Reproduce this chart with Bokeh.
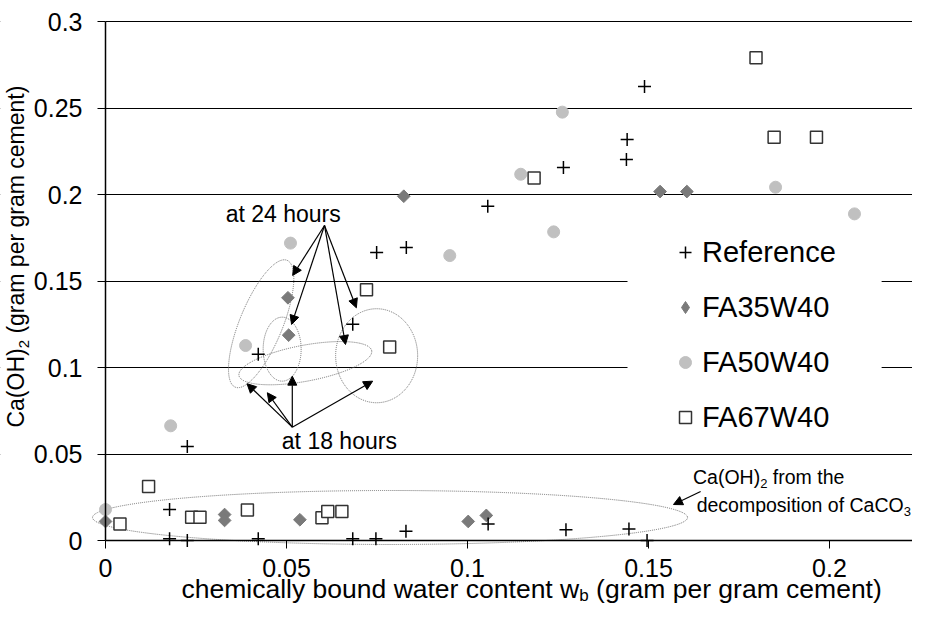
import math
from bokeh.plotting import figure
from bokeh.models import (Range1d, FixedTicker, Label, Arrow, NormalHead, Legend,
                          LegendItem, BoxAnnotation)
from bokeh.embed import file_html
from bokeh.resources import INLINE

# ---------------- data ----------------
series_names = ["Reference", "FA35W40", "FA50W40", "FA67W40"]

ref_x = [0.0177, 0.0177, 0.0226, 0.0422, 0.0683, 0.0747, 0.0830, 0.1057, 0.1272, 0.1446, 0.1496,
         0.0226, 0.0422, 0.0683, 0.0749, 0.0831, 0.1056, 0.1265, 0.1439, 0.1441, 0.1489]
ref_y = [0.0179, 0.0010, 0.0000, 0.0010, 0.0010, 0.0010, 0.0054, 0.0096, 0.0062, 0.0067, 0.0000,
         0.0543, 0.1077, 0.1250, 0.1665, 0.1694, 0.1932, 0.2156, 0.2202, 0.2318, 0.2624]

fa35_x = [0.0000, 0.0329, 0.0329, 0.0537, 0.1002, 0.1052, 0.0504, 0.0506, 0.0824, 0.1532, 0.1606]
fa35_y = [0.0110, 0.0150, 0.0116, 0.0120, 0.0110, 0.0145, 0.1403, 0.1187, 0.1990, 0.2017, 0.2017]

fa50_x = [0.0000, 0.0180, 0.0387, 0.0511, 0.0951, 0.1147, 0.1238, 0.1262, 0.1851, 0.2069, 0.2259]
fa50_y = [0.0179, 0.0663, 0.1127, 0.1719, 0.1647, 0.2117, 0.1784, 0.2476, 0.2042, 0.1888, 0.1917]

fa67_x = [0.0040, 0.0119, 0.0238, 0.0261, 0.0392, 0.0598, 0.0614, 0.0653, 0.0721, 0.0785,
          0.1184, 0.1797, 0.1847, 0.1964]
fa67_y = [0.0096, 0.0312, 0.0135, 0.0135, 0.0177, 0.0131, 0.0168, 0.0168, 0.1449, 0.1118,
          0.2096, 0.2790, 0.2331, 0.2331]

x_ticks = [0, 0.05, 0.1, 0.15, 0.2]
x_tick_labels = ["0", "0.05", "0.1", "0.15", "0.2"]
y_ticks = [0, 0.05, 0.1, 0.15, 0.2, 0.25, 0.3]
y_tick_labels = ["0", "0.05", "0.1", "0.15", "0.2", "0.25", "0.3"]

# annotation geometry (data-space anchors, screen-space sizes)
ell_x = [0.0430, 0.0488, 0.0552, 0.0749, 0.0786]
ell_y = [0.1253, 0.1106, 0.1025, 0.1068, 0.0133]
ell_w = [137, 38, 135, 82, 595]
ell_h = [43, 64, 36, 94, 54]
ell_a = [67.8, 0, 10.6, 0, 0]

arrows_24h_start = (0.0605, 0.1821)
arrows_24h_end = [(0.0517, 0.1532), (0.0514, 0.1249), (0.0663, 0.1133), (0.0693, 0.1345)]
arrows_18h_start = (0.0516, 0.0655)
arrows_18h_end = [(0.0391, 0.0906), (0.0447, 0.0854), (0.0516, 0.0950), (0.0738, 0.0921)]
arrow_caco3 = ((0.1644, 0.0283), (0.1569, 0.0208))

FONT = "Liberation Sans"
W, H = 912, 608
# layout: pixels per data unit and pixel position of the axes' origin
PX_X, PX_Y = 3620.0, 1730.0
ORIGIN_X, ORIGIN_Y = 105, 540
X0, X1 = -ORIGIN_X / PX_X, (W - ORIGIN_X) / PX_X
Y0, Y1 = -(H - ORIGIN_Y) / PX_Y, ORIGIN_Y / PX_Y
Y_TOP = 0.3

p = figure(width=W, height=H, output_backend="svg", toolbar_location=None,
           x_range=Range1d(X0, X1), y_range=Range1d(Y0, Y1),
           min_border_left=0, min_border_right=0, min_border_top=0, min_border_bottom=0)
p.outline_line_color = None
p.background_fill_color = "white"
p.border_fill_color = "white"

# grid
p.xgrid.visible = False
p.ygrid.ticker = FixedTicker(ticks=y_ticks[1:])
p.ygrid.grid_line_color = "black"
p.ygrid.grid_line_width = 1
# hide grid left of the value axis
p.add_layout(BoxAnnotation(right=0, fill_color="white", fill_alpha=1, line_color=None,
                           level="underlay"))

# axes crossing at the origin
for ax in (p.xaxis, p.yaxis):
    ax.fixed_location = 0
    ax.axis_line_color = "black"
    ax.axis_line_width = 1.5
    ax.major_tick_line_color = "black"
    ax.major_tick_line_width = 1
    ax.major_tick_in = 0
    ax.major_tick_out = 8
    ax.minor_tick_line_color = None
    ax.major_label_text_font = FONT
    ax.major_label_text_font_size = "25px"
    ax.major_label_text_color = "black"
p.xaxis.bounds = (0, X1)
p.yaxis.bounds = (0, Y_TOP)
p.xaxis.ticker = FixedTicker(ticks=x_ticks)
p.xaxis.major_label_overrides = dict(zip(x_ticks, x_tick_labels))
p.xaxis.major_label_standoff = 10
p.yaxis.ticker = FixedTicker(ticks=y_ticks)
p.yaxis.major_label_overrides = dict(zip(y_ticks, y_tick_labels))
p.yaxis.major_label_standoff = 15

# ellipses (annotation shapes)
p.ellipse(x=ell_x, y=ell_y, width=ell_w, height=ell_h,
          angle=[math.radians(a) for a in ell_a],
          width_units="screen", height_units="screen",
          fill_color=None, line_color="#707070", line_width=1, line_dash="1 1")

# data series
r50 = p.scatter(fa50_x, fa50_y, marker="circle", size=12, fill_color="#c0c0c0",
                line_color="#c0c0c0")
r35 = p.scatter(fa35_x, fa35_y, marker="square", angle=math.pi / 4, size=9,
                fill_color="#7a7a7a", line_color="#7a7a7a")
r67 = p.scatter(fa67_x, fa67_y, marker="square", size=12, fill_color="white",
                line_color="#333333", line_width=1.5)
rref = p.scatter(ref_x, ref_y, marker="cross", size=13, line_color="black", line_width=1.5)
# legend swatch for the diamond series (legend glyphs are drawn unrotated); not plotted
r35_key = p.scatter(x=[float("nan")], y=[float("nan")], marker="diamond",
                    fill_color="#7a7a7a", line_color="#7a7a7a")

# arrows
def add_arrow(s, e):
    p.add_layout(Arrow(end=NormalHead(size=9, fill_color="black", line_color="black"),
                       x_start=s[0], y_start=s[1], x_end=e[0], y_end=e[1],
                       line_color="black", line_width=1.2))

for e in arrows_24h_end:
    add_arrow(arrows_24h_start, e)
for e in arrows_18h_end:
    add_arrow(arrows_18h_start, e)
add_arrow(*arrow_caco3)

BASE_CORR = 0.37  # rendered baseline sits this fraction of the font size lower

def lab(text, x, y, size, align="left", angle=0, x_offset=0):
    px = float(size.replace("px", ""))
    if angle == 0:
        y = y + BASE_CORR * px / PX_Y
    else:
        x = x - BASE_CORR * px / PX_X
    p.add_layout(Label(x=x, y=y, text=text, text_font=FONT, text_font_size=size,
                       text_color="black", text_align=align, text_baseline="alphabetic",
                       angle=angle, x_offset=x_offset))

lab("at 24 hours", 0.0491, 0.1840, "23px", align="center")
lab("at 18 hours", 0.0646, 0.0524, "23px", align="center")

# "Ca(OH)2 from the / decomposition of CaCO3"
L1_X, L1_Y = 0.1623, 0.0328
L2_X, L2_Y = 0.1633, 0.0164
lab("Ca(OH)", L1_X, L1_Y, "19.5px")
lab("2", L1_X, L1_Y - 0.0024, "13px", x_offset=67.2)
lab("from the", L1_X, L1_Y, "19.5px", x_offset=79.8)
lab("decomposition of CaCO", L2_X, L2_Y, "19.5px")
lab("3", L2_X, L2_Y - 0.0024, "13px", x_offset=207.0)

# x-axis title with subscript b
XT_Y = -0.0335
lab("chemically bound water content w", 0.0210, XT_Y, "26.5px")
lab("b", 0.0210, XT_Y - 0.0020, "17px", x_offset=397.7)
lab("(gram per gram cement)", 0.0210, XT_Y, "26.5px", x_offset=414.6)

# y-axis title (rotated) with subscript 2
lab("Ca(OH)", -0.0224, 0.0653, "23px", angle=math.pi / 2)
lab("2", -0.0210, 0.1111, "15px", angle=math.pi / 2)
lab("(gram per gram cement)", -0.0224, 0.1196, "23px", angle=math.pi / 2)

# legend background box and legend
p.add_layout(BoxAnnotation(left=0.1442, right=0.2144, bottom=0.0549, top=0.1821,
                           fill_color="white", fill_alpha=1, line_color=None))
legend = Legend(items=[LegendItem(label=series_names[0], renderers=[rref]),
                       LegendItem(label=series_names[1], renderers=[r35_key]),
                       LegendItem(label=series_names[2], renderers=[r50]),
                       LegendItem(label=series_names[3], renderers=[r67])],
                location=(670, 171), orientation="vertical", padding=0, margin=0,
                spacing=15, glyph_width=30, glyph_height=40, label_height=40,
                label_standoff=2, label_text_font=FONT, label_text_font_size="29px",
                label_text_color="black", background_fill_alpha=0, border_line_color=None)
p.add_layout(legend)

open("out.html", "w").write(file_html(p, INLINE))
